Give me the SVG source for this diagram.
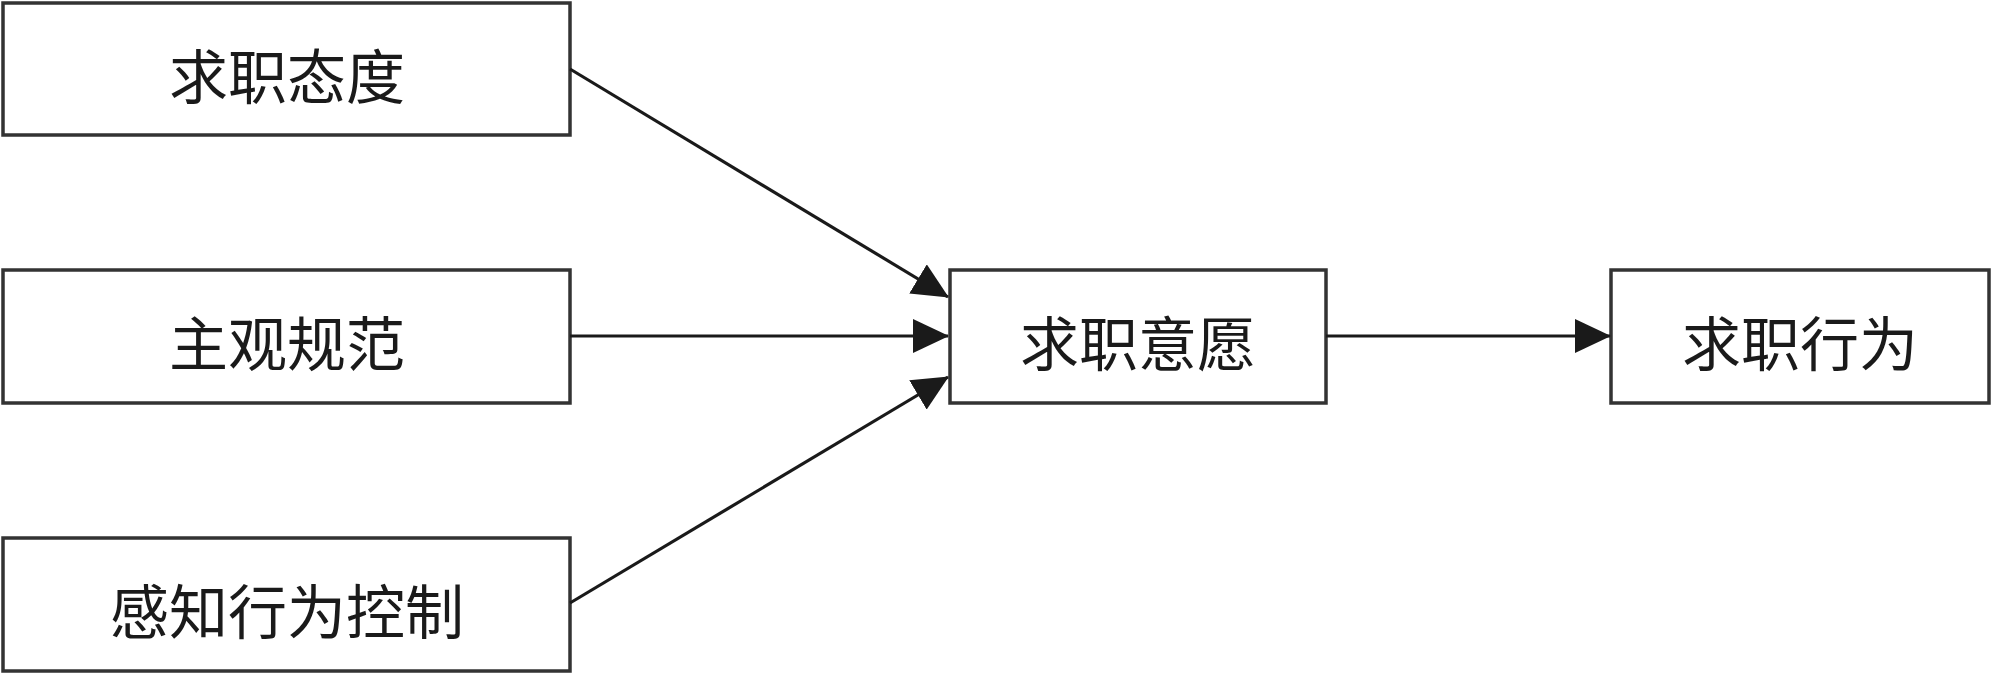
<svg xmlns="http://www.w3.org/2000/svg" width="1999" height="681" viewBox="0 0 1999 681">
<style>
.box{fill:#fff;stroke:#333;stroke-width:3.5}
.lbl{font-family:"Noto Sans CJK SC","Noto Sans CJK JP",sans-serif;font-size:59px;fill:#1a1a1a;text-anchor:middle;dominant-baseline:central}
.edge{stroke:#1a1a1a;stroke-width:3.2;fill:none;marker-end:url(#arr)}
</style>
<defs>
<marker id="arr" markerUnits="userSpaceOnUse" markerWidth="36" markerHeight="34" refX="35" refY="17" orient="auto" viewBox="0 0 36 34">
<path d="M0,0 L36,17 L0,34 Z" fill="#1a1a1a"/>
</marker>
</defs>
<rect width="1999" height="681" fill="#fff"/>
<g id="n1"><rect class="box" x="3" y="3" width="567" height="132"/><text class="lbl" x="287" y="73">求职态度</text></g>
<g id="n2"><rect class="box" x="3" y="270" width="567" height="133"/><text class="lbl" x="287" y="340">主观规范</text></g>
<g id="n3"><rect class="box" x="3" y="538" width="567" height="133"/><text class="lbl" x="287" y="608">感知行为控制</text></g>
<g id="n4"><rect class="box" x="950" y="270" width="376" height="133"/><text class="lbl" x="1138" y="340">求职意愿</text></g>
<g id="n5"><rect class="box" x="1611" y="270" width="378" height="133"/><text class="lbl" x="1800" y="340">求职行为</text></g>
<g id="edges">
<line class="edge" x1="570" y1="69" x2="948" y2="297"/>
<line class="edge" x1="570" y1="336" x2="948" y2="336"/>
<line class="edge" x1="570" y1="603" x2="948" y2="377"/>
<line class="edge" x1="1326" y1="336" x2="1610" y2="336"/>
</g>
</svg>
